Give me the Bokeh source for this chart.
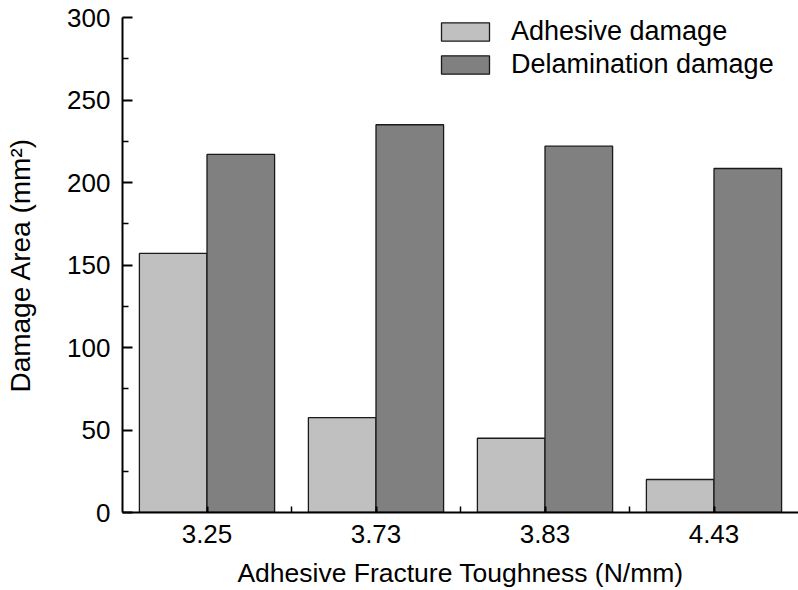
from bokeh.plotting import figure
from bokeh.models import FixedTicker, Range1d
from bokeh.embed import file_html
from bokeh.resources import INLINE

# Adhesive fracture toughness groups (N/mm) and damage areas (mm^2)
toughness = ["3.25", "3.73", "3.83", "4.43"]
adhesive_damage = [157, 57.5, 45, 20]
delamination_damage = [217, 235, 222, 208.5]

y_ticks = [0, 50, 100, 150, 200, 250, 300]
y_minor = [25, 75, 125, 175, 225, 275]

FONT = "Liberation Sans"

positions = list(range(1, len(toughness) + 1))
bar_w = 0.4
x_adh = [x - bar_w / 2 for x in positions]
x_del = [x + bar_w / 2 for x in positions]

p = figure(
    width=798, height=590,
    output_backend="svg", toolbar_location=None,
    x_range=Range1d(0.5, len(toughness) + 0.5),
    y_range=Range1d(0, 300),
    min_border_left=122, min_border_right=0,
    min_border_top=17, min_border_bottom=78,
)
p.outline_line_color = None
p.grid.visible = False
p.background_fill_color = "white"
p.border_fill_color = "white"

p.vbar(x=x_adh, top=adhesive_damage, width=bar_w, fill_color="#c0c0c0",
       line_color="#1a1a1a", line_width=1.3, legend_label="Adhesive damage")
p.vbar(x=x_del, top=delamination_damage, width=bar_w, fill_color="#808080",
       line_color="#1a1a1a", line_width=1.3, legend_label="Delamination damage")

# axes
for ax in (p.xaxis, p.yaxis):
    ax.axis_line_width = 2
    ax.axis_line_color = "black"
    ax.major_tick_line_width = 2
    ax.minor_tick_line_width = 1.5
    ax.major_tick_line_color = "black"
    ax.minor_tick_line_color = "black"
    ax.major_tick_out = 0
    ax.minor_tick_out = 0
    ax.major_label_text_font = FONT
    ax.major_label_text_font_size = "26px"
    ax.major_label_text_color = "black"
    ax.axis_label_text_font = FONT
    ax.axis_label_text_font_style = "normal"
    ax.axis_label_text_color = "black"

p.xaxis.ticker = FixedTicker(ticks=positions,
                             minor_ticks=[x + 0.5 for x in positions[:-1]])
p.xaxis.major_label_overrides = {x: t for x, t in zip(positions, toughness)}
p.xaxis.major_tick_in = 6
p.xaxis.minor_tick_in = 6
p.xaxis.major_label_standoff = 12
p.xaxis.axis_label = "Adhesive Fracture Toughness (N/mm)"
p.xaxis.axis_label_text_font_size = "26.5px"
p.xaxis.axis_label_standoff = 12

p.yaxis.ticker = FixedTicker(ticks=y_ticks, minor_ticks=y_minor)
p.yaxis.major_tick_in = 10
p.yaxis.minor_tick_in = 6
p.yaxis.major_label_standoff = 12
p.yaxis.axis_label = "Damage Area (mm²)"
p.yaxis.axis_label_text_font_size = "28px"
p.yaxis.axis_label_standoff = 28

leg = p.legend[0]
leg.location = (313, 432)
leg.border_line_color = None
leg.background_fill_alpha = 0
leg.padding = 0
leg.margin = 0
leg.spacing = 2
leg.glyph_width = 60
leg.glyph_height = 23
leg.label_standoff = 16
leg.label_text_font = FONT
leg.label_text_font_size = "27px"
leg.label_text_color = "black"

open("out.html", "w").write(file_html(p, INLINE))
